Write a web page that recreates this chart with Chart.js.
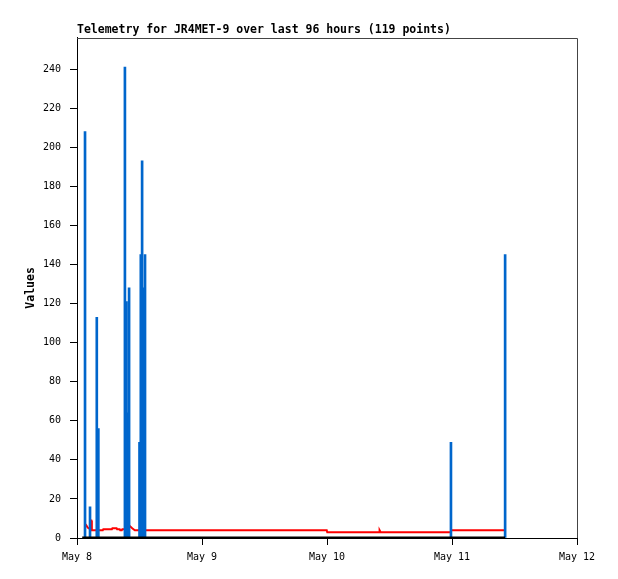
<!DOCTYPE html>
<html>
<head>
<meta charset="utf-8">
<title>Telemetry JR4MET-9</title>
<script src="https://cdn.jsdelivr.net/npm/chart.js@4/dist/chart.umd.min.js"></script>
<style>
  body { margin: 0; background: #ffffff; }
  #telemetryChart { display: block; }
</style>
</head>
<body>
<canvas id="telemetryChart" width="618" height="579"></canvas>
<script>
/************************************************************************************************
 *                                        CHART DATA
 * x values are hours since May 8 00:00 (96 hour window)
 * **********************************************************************************************/

const xTickLabels = ["May 8", "May 9", "May 10", "May 11", "May 12"];

// blue channel - spikes
const blueHours = [1.54, 2.5, 3.8, 4.1, 9.2, 9.5, 9.75, 10.0, 12.0, 12.25, 12.5, 12.8, 13.06, 71.8, 82.2];
const blueValues = [208, 16, 113, 56, 241, 121, 64, 128, 49, 145, 193, 128, 145, 49, 145];

// red channel
const redHours = [1.6, 1.8, 2.0, 2.2, 2.5, 2.6, 2.75, 2.85, 4.95, 5.05, 6.7, 6.8, 7.6, 7.7, 8.2, 8.3, 8.6, 8.7,
  9.6, 10.2, 10.6, 11.1, 47.95, 48.05, 58.0, 58.1, 58.3, 71.75, 71.85, 82.0];
const redValues = [7, 6.5, 5.5, 5, 5, 9, 9, 4, 4, 4.5, 4.5, 5, 5, 4.5, 4.5, 4, 4, 4.5,
  4.5, 6, 5, 4, 4, 3, 3, 4, 3, 3, 4, 4];

// black channel - flat at zero
const blackHours = [1.0, 82.2];
const blackValues = [0, 0];

const chartSettings = {
  chartTitle: "Telemetry for JR4MET-9 over last 96 hours (119 points)",
  yAxisTitle: "Values",
  hoursShown: 96,
  yMax: 256,
  yStep: 20,
};

/************************************************************************************************
 *                                        HELPERS
 * **********************************************************************************************/

function toPoints(xs, ys) {
  return xs.map((x, i) => ({ x: x, y: ys[i] }));
}

const monoFont = "'DejaVu Sans Mono', 'Liberation Mono', monospace";

// white background + grey top/right frame like the original
const frameBorderPlugin = {
  id: "frameBorder",
  beforeDraw(chart) {
    const ctx = chart.ctx;
    ctx.save();
    ctx.fillStyle = "#ffffff";
    ctx.fillRect(0, 0, chart.width, chart.height);
    ctx.restore();
  },
  afterDraw(chart) {
    const { left, top, right, bottom } = chart.chartArea;
    const ctx = chart.ctx;
    ctx.save();
    ctx.strokeStyle = "#444444";
    ctx.lineWidth = 1;
    ctx.beginPath();
    ctx.moveTo(left, Math.round(top) + 0.5);
    ctx.lineTo(Math.round(right) + 0.5, Math.round(top) + 0.5);
    ctx.lineTo(Math.round(right) + 0.5, bottom);
    ctx.stroke();
    ctx.restore();
  },
};

/************************************************************************************************
 *                                        CHART CONFIG
 * **********************************************************************************************/

const datasets = [
  {
    type: "line",
    label: "black",
    data: toPoints(blackHours, blackValues),
    borderColor: "#000000",
    borderWidth: 3,
    pointRadius: 0,
    order: 0,
  },
  {
    type: "bar",
    label: "blue",
    data: toPoints(blueHours, blueValues),
    backgroundColor: "#0066cc",
    borderWidth: 0,
    barThickness: 2,
    grouped: false,
    order: 1,
  },
  {
    type: "line",
    label: "red",
    data: toPoints(redHours, redValues),
    borderColor: "#ff0000",
    borderWidth: 2,
    pointRadius: 0,
    tension: 0,
    order: 2,
  },
];

const config = {
  type: "bar",
  data: { datasets: datasets },
  options: {
    responsive: false,
    animation: false,
    layout: { padding: { left: 0, right: 41, top: 0, bottom: 0 } },
    plugins: {
      legend: { display: false },
      tooltip: { enabled: false },
      title: {
        display: true,
        text: chartSettings.chartTitle,
        align: "start",
        fullSize: false,
        color: "#000000",
        font: { family: monoFont, size: 11.5, weight: "bold", lineHeight: 1.2 },
        padding: { top: 23, bottom: 1 },
      },
    },
    scales: {
      x: {
        type: "linear",
        min: 0,
        max: chartSettings.hoursShown,
        offset: false,
        grid: { drawOnChartArea: false, offset: false, color: "#000000", tickLength: 7 },
        border: { color: "#000000" },
        ticks: {
          stepSize: 24,
          autoSkip: false,
          maxRotation: 0,
          padding: 6,
          color: "#000000",
          font: { family: monoFont, size: 10 },
          callback: (v) => xTickLabels[Math.round(v / 24)],
        },
        afterFit: (scale) => { scale.height = 41; },
      },
      y: {
        min: 0,
        max: chartSettings.yMax,
        grid: { drawOnChartArea: false, color: "#000000", tickLength: 7 },
        border: { color: "#000000" },
        ticks: {
          stepSize: chartSettings.yStep,
          padding: 9,
          color: "#000000",
          font: { family: monoFont, size: 10 },
        },
        afterBuildTicks: (scale) => {
          scale.ticks = scale.ticks.filter((t) => t.value % chartSettings.yStep === 0);
        },
        afterFit: (scale) => { scale.width = 77; },
        title: {
          display: true,
          text: chartSettings.yAxisTitle,
          color: "#000000",
          font: { family: monoFont, size: 11.5, weight: "bold", lineHeight: 1.2 },
          padding: { top: 24, bottom: 0 },
        },
      },
    },
  },
  plugins: [frameBorderPlugin],
};

new Chart(document.getElementById("telemetryChart"), config);
</script>
</body>
</html>
